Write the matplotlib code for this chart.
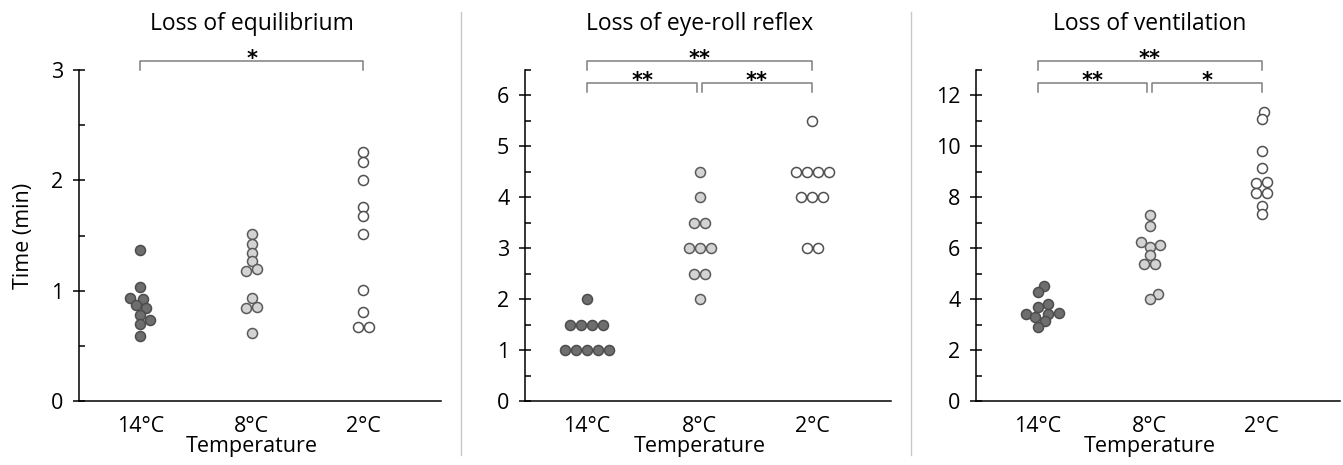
import numpy as np
import matplotlib
matplotlib.use("Agg")
import matplotlib.pyplot as plt
from matplotlib.lines import Line2D
from matplotlib.ticker import MultipleLocator
from matplotlib.transforms import blended_transform_factory, offset_copy

# ---------------- data ----------------
categories = ["14°C", "8°C", "2°C"]
titles = ["Loss of equilibrium", "Loss of eye-roll reflex", "Loss of ventilation"]
ylabel = "Time (min)"
xlabel = "Temperature"

equil_14 = [1.37, 1.03, 0.93, 0.92, 0.87, 0.84, 0.78, 0.73, 0.70, 0.59]
equil_8 = [1.51, 1.42, 1.34, 1.27, 1.20, 1.18, 0.93, 0.85, 0.84, 0.62]
equil_2 = [2.26, 2.17, 2.00, 1.76, 1.68, 1.51, 1.01, 0.81, 0.67, 0.67]

eyeroll_14 = [2.0, 1.5, 1.5, 1.5, 1.5, 1.0, 1.0, 1.0, 1.0, 1.0]
eyeroll_8 = [4.5, 4.0, 3.5, 3.5, 3.0, 3.0, 3.0, 2.5, 2.5, 2.0]
eyeroll_2 = [5.5, 4.5, 4.5, 4.5, 4.5, 4.0, 4.0, 4.0, 3.0, 3.0]

vent_14 = [4.53, 4.29, 3.80, 3.70, 3.47, 3.43, 3.41, 3.29, 3.13, 2.90]
vent_8 = [7.30, 6.87, 6.25, 6.12, 6.05, 5.73, 5.40, 5.40, 4.19, 4.00]
vent_2 = [11.36, 11.07, 9.82, 9.16, 8.61, 8.55, 8.18, 8.18, 7.67, 7.33]

panel_data = [
    [equil_14, equil_8, equil_2],
    [eyeroll_14, eyeroll_8, eyeroll_2],
    [vent_14, vent_8, vent_2],
]
y_max = [3, 6.5, 13]
y_major = [1, 1, 2]
y_minor = [0.5, 0.5, 1]
# significance: (14 vs 8, 8 vs 2, 14 vs 2)
sig_12 = [None, "**", "**"]
sig_23 = [None, "**", "*"]
sig_13 = ["*", "**", "**"]

# ---------------- style ----------------
W, H, DPI = 1343, 465, 100
FONT = "Open Sans"
FS = 15.5
FS_TITLE = 16.5
fill_colors = ["#6e6e6e", "#d3d3d3", "#ffffff"]
edge_colors = ["#4d4d4d", "#5a5a5a", "#505050"]
bracket_color = "#7f7f7f"

plt.rcParams["font.family"] = [FONT, "DejaVu Sans"]

fig = plt.figure(figsize=(W / DPI, H / DPI), dpi=DPI)
fig.patch.set_facecolor("white")

axes_px = [(79, 441), (525, 891), (976, 1340)]
ax_top, ax_bot = 70, 401


def swarm_x(ax, center, values, dx_full=11.0, dy_full=7.6, row_tol=2.5):
    vals = np.asarray(values, float)
    n = len(vals)
    ypx = ax.transData.transform(np.column_stack([np.full(n, center), vals]))[:, 1]
    order = list(np.argsort(ypx, kind="stable"))
    xs = np.zeros(n)

    def collide(x1, y1, x2, y2):
        return ((x1 - x2) / dx_full) ** 2 + ((y1 - y2) / dy_full) ** 2 < 1 - 1e-6

    placed = []
    for i in order:
        y = ypx[i]
        near = [j for j in placed if abs(ypx[j] - y) < dy_full]
        cands = [0.0]
        for j in near:
            w = dx_full * np.sqrt(max(0.0, 1 - ((ypx[j] - y) / dy_full) ** 2))
            cands += [xs[j] + w, xs[j] - w]
        cands.sort(key=lambda c: (round(abs(c), 6), -c))
        for c in cands:
            if not any(collide(c, y, xs[j], ypx[j]) for j in near):
                xs[i] = c
                break
        placed.append(i)
    # recentre horizontal rows
    groups, cur = [], [order[0]]
    for a in order[1:]:
        if ypx[a] - ypx[cur[0]] < row_tol:
            cur.append(a)
        else:
            groups.append(cur)
            cur = [a]
    groups.append(cur)
    for g in groups:
        if len(g) < 2:
            continue
        new = xs.copy()
        new[g] += -np.mean(xs[g])
        ok = all(not collide(new[a], ypx[a], new[b], ypx[b])
                 for a in g for b in range(n) if b not in g)
        if ok:
            xs = new
    x0 = ax.transData.transform([[0, 0]])[0, 0]
    x1 = ax.transData.transform([[1, 0]])[0, 0]
    return center + xs / (x1 - x0)


def frac_y(px_from_top):
    return (ax_bot - px_from_top) / (ax_bot - ax_top)


for p in range(3):
    l, r = axes_px[p]
    ax = fig.add_axes([l / W, (H - ax_bot) / H, (r - l) / W, (ax_bot - ax_top) / H])
    ax.set_xlim(0.45, 3.7)
    ax.set_ylim(0, y_max[p])
    for s in ["top", "right"]:
        ax.spines[s].set_visible(False)
    for s in ["left", "bottom"]:
        ax.spines[s].set_linewidth(1.1)
        ax.spines[s].set_color("black")

    ax.yaxis.set_major_locator(MultipleLocator(y_major[p]))
    ax.yaxis.set_minor_locator(MultipleLocator(y_minor[p]))
    ax.tick_params(axis="y", which="major", direction="inout", length=8.6,
                   width=1.1, pad=7, labelsize=FS)
    ax.tick_params(axis="y", which="minor", direction="in", length=4.3, width=1.1)
    ax.set_xticks([1, 2, 3])
    ax.set_xticklabels(categories)
    ax.tick_params(axis="x", which="both", length=0, pad=10.5, labelsize=FS)

    for k in range(3):
        xs = swarm_x(ax, k + 1, panel_data[p][k])
        ax.scatter(xs, panel_data[p][k], s=52, facecolor=fill_colors[k],
                   edgecolor=edge_colors[k], linewidth=1.1, zorder=3, clip_on=False)

    bt = blended_transform_factory(ax.transData, ax.transAxes)

    def bracket(xa, xb, ytop, ydrop, label):
        ax.add_line(Line2D([xa, xa, xb, xb], [ydrop, ytop, ytop, ydrop], transform=bt,
                           color=bracket_color, lw=1.1, clip_on=False))
        if label:
            tr = offset_copy(bt, fig=fig, y=-0.56 * 15, units="points")
            ax.text((xa + xb) / 2, ytop + (frac_y(53.3) - frac_y(60.7)), label,
                    transform=tr, ha="center", va="baseline", fontsize=15,
                    fontweight="bold", family="DejaVu Sans")

    bracket(1, 3, frac_y(60.7), frac_y(70), sig_13[p])
    if sig_12[p]:
        bracket(1, 1.98, frac_y(82.7), frac_y(92.3), sig_12[p])
    if sig_23[p]:
        bracket(2.02, 3, frac_y(82.7), frac_y(92.3), sig_23[p])

    ax.text(2, frac_y(30), titles[p], transform=bt, ha="center", va="baseline",
            fontsize=FS_TITLE)

    ax.set_xlabel(xlabel, fontsize=FS, va="baseline")
    ax.xaxis.set_label_coords((2 - 0.45) / 3.25, frac_y(452), transform=ax.transAxes)
    if p == 0:
        ax.set_ylabel(ylabel, fontsize=FS)
        ax.yaxis.set_label_coords((34 - l) / (r - l), 0.5, transform=ax.transAxes)

# separators
for xs_ in (461, 911):
    fig.add_artist(Line2D([xs_ / W, xs_ / W], [1 - 12 / H, 1 - 455 / H],
                          transform=fig.transFigure, color="#c8c8c8", lw=1.0))

fig.savefig("out.png", dpi=DPI)
